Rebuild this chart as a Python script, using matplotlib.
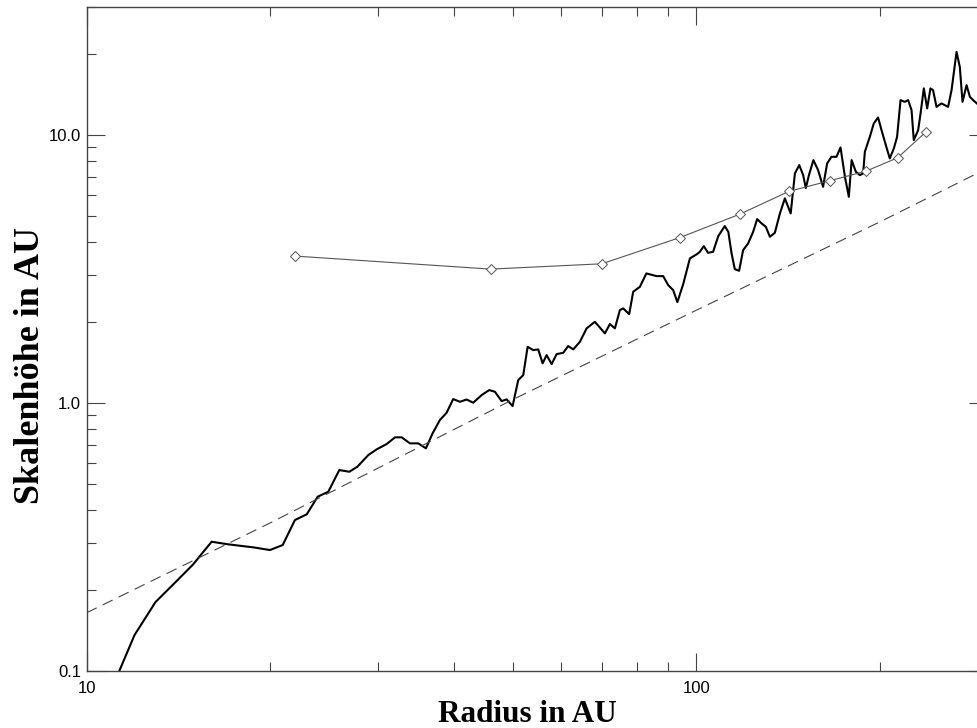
import numpy as np
import matplotlib
matplotlib.use("Agg")
import matplotlib.pyplot as plt
from matplotlib.ticker import FixedLocator, FixedFormatter, LogLocator, NullFormatter

# ==============================
# DATA
# ==============================
radius = [11.31, 11.98, 12.97, 14.01, 14.94, 16.03, 17.07, 18.76, 19.98, 20.97,
          21.96, 22.96, 23.93, 24.91, 25.97, 26.97, 27.80, 28.97, 29.91, 31.06,
          32.05, 32.87, 33.91, 34.99, 36.02, 36.94, 37.97, 38.95, 39.93, 40.96,
          42.01, 43.07, 44.46, 45.75, 46.75, 47.95, 48.86, 49.98, 51.05, 52.03,
          52.90, 54.03, 55.06, 55.98, 56.83, 57.92, 59.02, 60.51, 61.66, 62.84,
          64.45, 66.10, 68.20, 70.83, 72.18, 73.55, 74.96, 75.90, 77.64, 78.82,
          80.84, 82.84, 86.10, 88.27, 89.96, 91.67, 93.14, 95.21, 97.65, 100.3,
          101.4, 102.9, 104.6, 106.6, 108.7, 111.4, 112.9, 114.3, 115.7, 117.6,
          119.4, 121.7, 124.0, 125.9, 128.0, 130.1, 132.1, 134.6, 137.2, 139.8,
          142.9, 145.2, 147.6, 149.8, 151.3, 153.1, 155.7, 158.5, 161.5, 164.0,
          166.7, 169.9, 172.5, 175.4, 178.0, 179.9, 182.8, 185.6, 187.9, 189.1,
          192.7, 195.6, 198.8, 201.4, 204.7, 207.8, 211.0, 213.6, 216.4, 219.9,
          222.7, 225.6, 227.5, 231.3, 233.4, 236.3, 239.3, 242.3, 244.7, 247.9,
          252.6, 259.0, 262.4, 267.4, 270.7, 273.5, 277.7, 281.2, 284.7, 288.7]
scale_height = [0.100, 0.1362, 0.1809, 0.2154, 0.2496, 0.3037, 0.2970, 0.2894, 0.2828, 0.2952,
                0.3660, 0.3843, 0.4471, 0.4667, 0.5623, 0.5542, 0.5785, 0.6395, 0.6719, 0.7032,
                0.7449, 0.7449, 0.7074, 0.7074, 0.6777, 0.7708, 0.8641, 0.9201, 1.035, 1.011,
                1.031, 1.003, 1.071, 1.118, 1.102, 1.017, 1.032, 0.9745, 1.218, 1.272,
                1.622, 1.576, 1.586, 1.407, 1.510, 1.398, 1.523, 1.540, 1.632, 1.586,
                1.693, 1.900, 2.011, 1.820, 1.972, 1.900, 2.224, 2.256, 2.148, 2.602,
                2.716, 3.047, 2.977, 2.977, 2.756, 2.640, 2.381, 2.780, 3.467, 3.597,
                3.669, 3.853, 3.637, 3.669, 4.199, 4.576, 4.357, 3.619, 3.162, 3.116,
                3.723, 3.944, 4.357, 4.860, 4.684, 4.549, 4.174, 4.320, 5.104, 5.806,
                5.104, 7.195, 7.729, 7.091, 6.343, 7.091, 8.068, 7.403, 6.414, 7.843,
                8.300, 8.300, 8.997, 6.988, 5.886, 8.068, 7.296, 7.091, 7.195, 8.663,
                9.855, 11.06, 11.64, 10.44, 9.178, 8.187, 8.921, 9.855, 13.51, 13.31,
                13.51, 12.40, 9.580, 10.44, 12.05, 14.94, 12.58, 14.94, 14.72, 12.75,
                13.13, 12.75, 14.72, 20.46, 17.98, 13.31, 15.37, 13.90, 13.51, 13.13]

model_radius = [22, 46, 70, 94, 118, 142, 166, 190, 214, 238]
model_height = [3.536, 3.162, 3.310, 4.146, 5.073, 6.170, 6.766, 7.340, 8.229, 10.26]

hydro_radius = [10, 20, 50, 100, 200, 300]
hydro_height = [0.165, 0.357, 1.03, 2.22, 4.74, 7.51]

# ==============================
# PLOT
# ==============================
fig = plt.figure(figsize=(9.77, 7.28), dpi=100)
ax = fig.add_axes([86.7 / 977, 57 / 728, 900.3 / 977, 663.7 / 728])

ax.plot(radius, scale_height, color="black", lw=1.5)
ax.plot(model_radius, model_height, color="#555555", lw=0.8,
        marker="D", markersize=5, markerfacecolor="white", markeredgecolor="#555555",
        markeredgewidth=0.7)
ax.plot(hydro_radius, hydro_height, color="#444444", lw=0.8, linestyle=(0, (10, 6)))

ax.set_xscale("log")
ax.set_yscale("log")
ax.set_xlim(10, 300)
ax.set_ylim(0.1, 30)

ax.xaxis.set_major_locator(FixedLocator([10, 100]))
ax.xaxis.set_major_formatter(FixedFormatter(["10", "100"]))
ax.yaxis.set_major_locator(FixedLocator([0.1, 1.0, 10.0]))
ax.yaxis.set_major_formatter(FixedFormatter(["0.1", "1.0", "10.0"]))
ax.xaxis.set_minor_locator(LogLocator(base=10, subs=np.arange(2, 10)))
ax.yaxis.set_minor_locator(LogLocator(base=10, subs=np.arange(2, 10)))
ax.xaxis.set_minor_formatter(NullFormatter())
ax.yaxis.set_minor_formatter(NullFormatter())

ax.tick_params(which="both", direction="in", top=True, right=True, colors="#444444",
               labelcolor="black", labelsize=12, width=0.8)
ax.tick_params(which="major", length=13)
ax.tick_params(which="minor", length=6.5)
ax.tick_params(axis="x", pad=7)
ax.tick_params(axis="y", pad=4)
for lab in ax.get_xticklabels() + ax.get_yticklabels():
    lab.set_fontfamily("Liberation Sans")
for sp in ax.spines.values():
    sp.set_color("#444444")
    sp.set_linewidth(1.0)

ax.set_xlabel("Radius in AU", fontfamily="Liberation Serif", fontweight="bold", fontsize=22.5)
ax.xaxis.set_label_coords(0.49, -0.066)
ax.xaxis.label.set_va("center")
ax.set_ylabel("Skalenhöhe in AU", fontfamily="Liberation Serif", fontweight="bold", fontsize=26)
ax.yaxis.set_label_coords(-0.062, 0.5)
ax.yaxis.label.set_va("center")
ax.yaxis.label.set_y(1 - (366 - 7.3) / 663.7)

fig.savefig("out.png", dpi=100)
